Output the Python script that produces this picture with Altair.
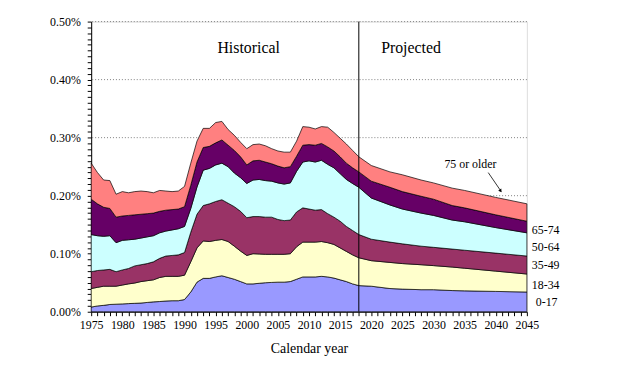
import altair as alt
import pandas as pd

# ---- data (percent of population, upper edge of each band) ----
years = list(range(1975, 2019)) + [2020, 2023, 2025, 2028, 2030, 2033, 2035, 2040, 2045]

groups = ["0-17", "18-34", "35-49", "50-64", "65-74", "75 or older"]
colors = ["#9999FF", "#FFFFCC", "#993366", "#CCFFFF", "#660066", "#FF8080"]

top_0_17 = [0.008, 0.010, 0.011, 0.0125, 0.013, 0.0135, 0.014, 0.0145, 0.015, 0.016,
            0.017, 0.0176, 0.0185, 0.019, 0.019, 0.021, 0.034, 0.051, 0.0575, 0.0575,
            0.060, 0.062, 0.059, 0.056, 0.052, 0.048, 0.048, 0.049, 0.050, 0.0505,
            0.051, 0.051, 0.052, 0.056, 0.060, 0.060, 0.060, 0.061, 0.060, 0.058,
            0.055, 0.052, 0.048, 0.045,
            0.044, 0.040, 0.039, 0.038, 0.038, 0.0365, 0.036, 0.035, 0.034]
top_18_34 = [0.040, 0.042, 0.044, 0.044, 0.044, 0.046, 0.048, 0.0495, 0.052, 0.0535,
             0.055, 0.059, 0.061, 0.061, 0.061, 0.063, 0.086, 0.110, 0.122, 0.121,
             0.123, 0.1245, 0.121, 0.113, 0.1045, 0.097, 0.100, 0.0995, 0.099, 0.099,
             0.099, 0.099, 0.100, 0.112, 0.120, 0.120, 0.120, 0.121, 0.119, 0.116,
             0.110, 0.104, 0.098, 0.093,
             0.088, 0.085, 0.083, 0.081, 0.0795, 0.077, 0.075, 0.070, 0.065]
top_35_49 = [0.069, 0.071, 0.072, 0.073, 0.069, 0.072, 0.0745, 0.079, 0.081, 0.083,
             0.086, 0.092, 0.096, 0.097, 0.098, 0.102, 0.137, 0.168, 0.183, 0.186,
             0.190, 0.193, 0.187, 0.181, 0.173, 0.162, 0.164, 0.164, 0.163, 0.163,
             0.159, 0.157, 0.158, 0.172, 0.179, 0.177, 0.175, 0.176, 0.169, 0.163,
             0.156, 0.147, 0.140, 0.133,
             0.125, 0.120, 0.117, 0.113, 0.111, 0.108, 0.106, 0.101, 0.096]
top_50_64 = [0.133, 0.131, 0.130, 0.131, 0.119, 0.123, 0.124, 0.125, 0.127, 0.129,
             0.131, 0.136, 0.139, 0.141, 0.143, 0.147, 0.178, 0.215, 0.244, 0.247,
             0.253, 0.256, 0.250, 0.239, 0.231, 0.221, 0.227, 0.228, 0.226, 0.225,
             0.222, 0.220, 0.222, 0.242, 0.258, 0.260, 0.258, 0.261, 0.254, 0.248,
             0.238, 0.228, 0.221, 0.2145,
             0.196, 0.184, 0.177, 0.170, 0.166, 0.158, 0.155, 0.145, 0.136]
top_65_74 = [0.194, 0.186, 0.180, 0.178, 0.163, 0.165, 0.166, 0.167, 0.168, 0.169,
             0.170, 0.173, 0.175, 0.176, 0.177, 0.181, 0.218, 0.258, 0.283, 0.285,
             0.291, 0.296, 0.287, 0.278, 0.267, 0.253, 0.260, 0.261, 0.258, 0.255,
             0.251, 0.248, 0.250, 0.268, 0.287, 0.288, 0.287, 0.290, 0.284, 0.277,
             0.267, 0.256, 0.248, 0.241,
             0.225, 0.2145, 0.207, 0.199, 0.194, 0.183, 0.179, 0.167, 0.156]
top_75 = [0.256, 0.240, 0.227, 0.226, 0.2025, 0.207, 0.205, 0.207, 0.208, 0.207,
          0.205, 0.209, 0.208, 0.207, 0.208, 0.216, 0.256, 0.294, 0.316, 0.316,
          0.326, 0.328, 0.314, 0.304, 0.292, 0.281, 0.288, 0.289, 0.286, 0.281,
          0.277, 0.275, 0.275, 0.294, 0.319, 0.318, 0.315, 0.319, 0.318, 0.309,
          0.299, 0.289, 0.278, 0.267,
          0.252, 0.241, 0.236, 0.227, 0.222, 0.213, 0.209, 0.197, 0.186]

projection_start = [2018]
grid_values = [0.1, 0.2, 0.3, 0.4, 0.5]
x_tick_values = list(range(1975, 2046))
y_tick_values = [round(i * 0.01, 2) for i in range(51)]

tops = [top_0_17, top_18_34, top_35_49, top_50_64, top_65_74, top_75]
rows = []
for gi, g in enumerate(groups):
    for i, yr in enumerate(years):
        lo = tops[gi - 1][i] if gi > 0 else 0.0
        rows.append({"year": yr, "group": g, "hi": tops[gi][i], "lo": lo})
df = pd.DataFrame(rows)

FONT = "Liberation Serif"

x_axis = alt.Axis(
    values=x_tick_values, format="d",
    labelExpr="datum.value % 5 == 0 ? datum.label : ''",
    labelOverlap=False, labelFlush=False, labelBound=False,
    labelFont=FONT, labelFontSize=12, labelColor="black", labelPadding=4,
    tickSize=4, tickColor="black", tickWidth=1,
    domainColor="black", domainWidth=1, grid=False,
    title="Calendar year", titleFont=FONT, titleFontSize=14,
    titleFontWeight="normal", titleColor="black", titlePadding=11,
)
y_axis = alt.Axis(
    values=y_tick_values,
    labelExpr="abs(datum.value*10 - round(datum.value*10)) < 0.000001 ? format(datum.value, '.2f') + '%' : ''",
    labelOverlap=False, labelFlush=False, labelBound=False,
    labelFont=FONT, labelFontSize=12, labelColor="black", labelPadding=7,
    tickSize=4, tickColor="black", tickWidth=1,
    domainColor="black", domainWidth=1, grid=False, title=None,
)

xs = alt.Scale(domain=[1975, 2045], nice=False, zero=False)
ys = alt.Scale(domain=[0, 0.5], nice=False)

grid = alt.Chart(pd.DataFrame({"g": grid_values})).mark_rule(
    color="#808080", strokeWidth=1, strokeDash=[1, 2]
).encode(y=alt.Y("g:Q", scale=ys, axis=y_axis))

areas = alt.Chart(df).mark_area(stroke="black", strokeWidth=0.7, opacity=1).encode(
    x=alt.X("year:Q", scale=xs, axis=x_axis),
    y=alt.Y("hi:Q", scale=ys, axis=y_axis),
    y2="lo:Q",
    color=alt.Color("group:N", scale=alt.Scale(domain=groups, range=colors), legend=None),
)

vline = alt.Chart(pd.DataFrame({"year": projection_start})).mark_rule(
    color="black", strokeWidth=1
).encode(x=alt.X("year:Q", scale=xs, axis=x_axis))

def label(txt, x, y, size, align="center"):
    return alt.Chart(pd.DataFrame({"t": [txt]})).mark_text(
        font=FONT, fontSize=size, color="black", align=align, baseline="middle"
    ).encode(x=alt.value(x), y=alt.value(y), text="t:N")

texts = [
    label("Historical", 159, 27, 16),
    label("Projected", 323, 27, 16),
    label("75 or older", 383, 144, 12),
    label("65-74", 445, 210, 12, "left"),
    label("50-64", 445, 228, 12, "left"),
    label("35-49", 445, 246, 12, "left"),
    label("18-34", 445, 266, 12, "left"),
    label("0-17", 449, 283, 12, "left"),
]

arrow_line = alt.Chart(pd.DataFrame({"a": [0]})).mark_rule(color="black", strokeWidth=0.8).encode(
    x=alt.value(401), y=alt.value(152.5), x2=alt.value(414), y2=alt.value(171.5)
)
arrow_head = alt.Chart(pd.DataFrame({"a": [0]})).mark_point(
    shape="triangle-down", filled=True, color="black", size=14, angle=326, opacity=1
).encode(x=alt.value(413.5), y=alt.value(171))

chart = alt.layer(grid, areas, vline, arrow_line, arrow_head, *texts).properties(
    width=440, height=293,
    autosize=alt.AutoSizeParams(type="none"),
    padding={"left": 84, "top": 12, "right": 90, "bottom": 45},
).configure_view(
    stroke="#808080", strokeWidth=1
).configure(background="white")

chart.save("out.html", embed_options={"renderer": "svg", "actions": False})
